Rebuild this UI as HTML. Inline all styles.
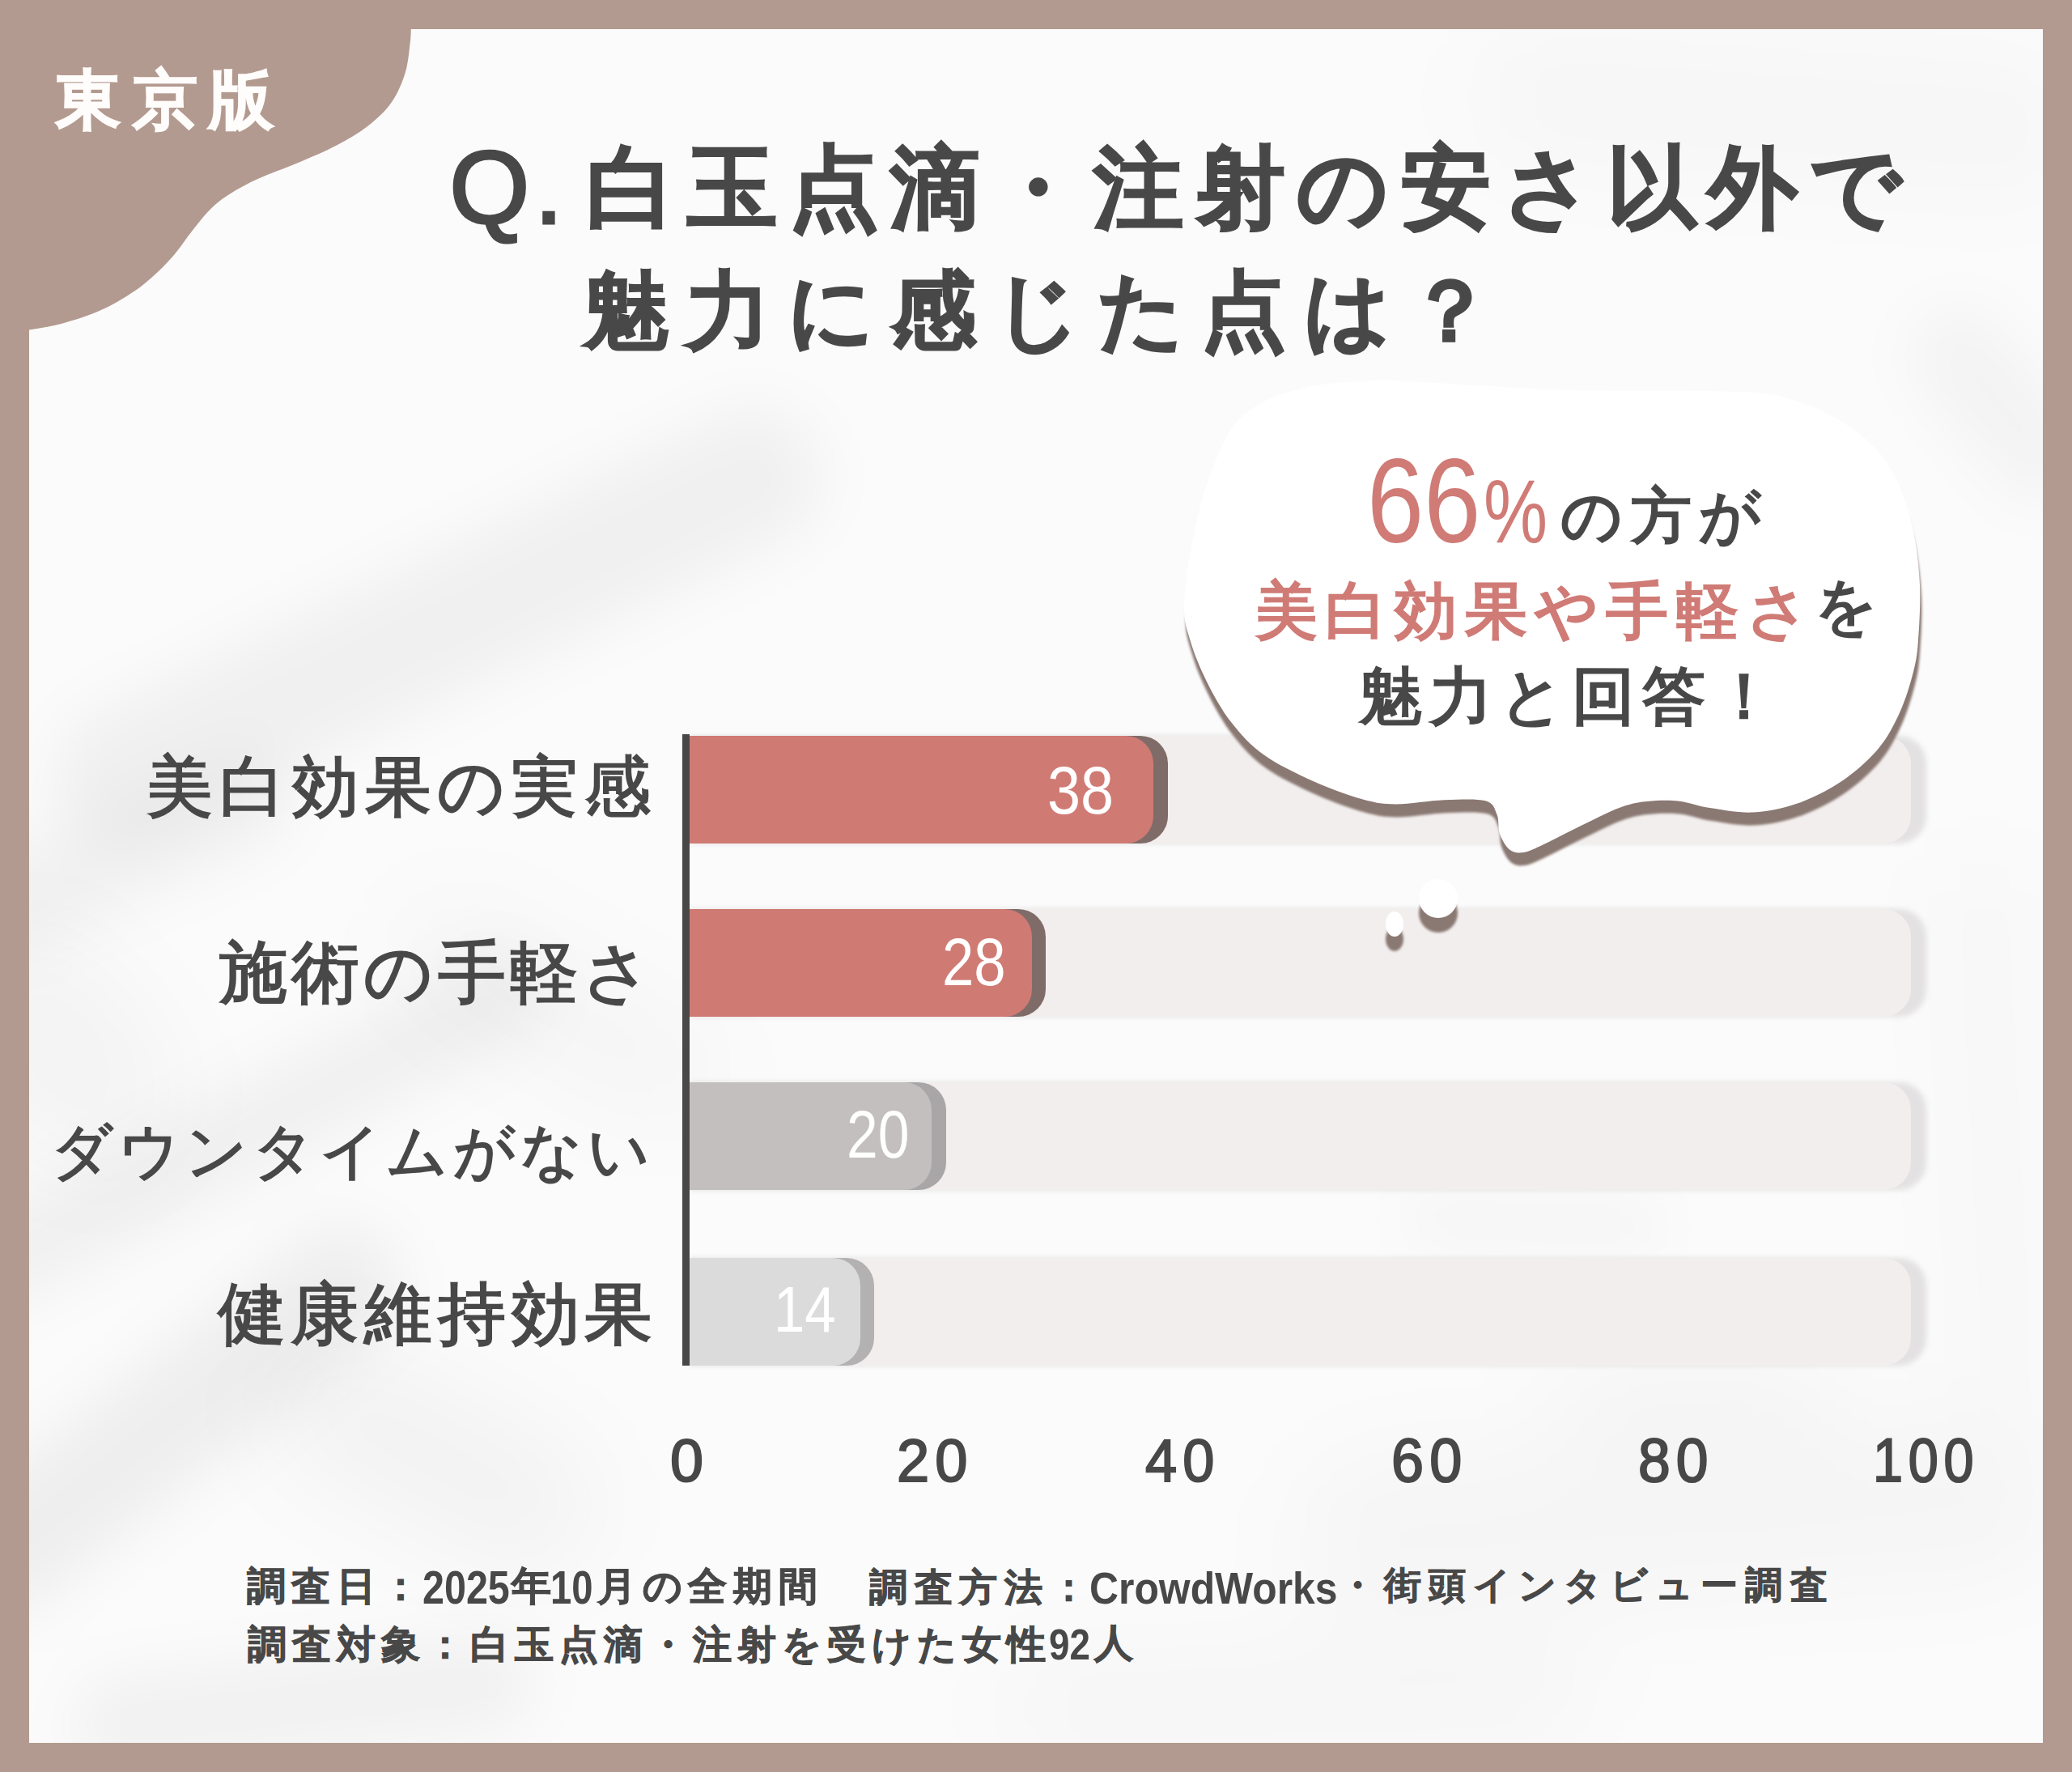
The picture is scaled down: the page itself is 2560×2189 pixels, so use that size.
<!DOCTYPE html>
<html><head><meta charset="utf-8"><title>chart</title>
<style>
html,body{margin:0;padding:0}
body{width:2560px;height:2189px;position:relative;overflow:hidden;background:#b39a90;font-family:"Liberation Sans",sans-serif}
.panel{position:absolute;left:36px;top:36px;width:2488px;height:2117px;background:#fbfbfb;overflow:hidden}
.r{position:absolute;border-radius:0 34px 34px 0}
.t{position:absolute;white-space:nowrap;line-height:1}
</style></head><body>
<div class="panel"><svg width="2488" height="2117" viewBox="36 36 2488 2117" style="position:absolute;left:0;top:0">
<defs>
<filter id="b40" x="-50%" y="-50%" width="200%" height="200%"><feGaussianBlur stdDeviation="35"/></filter>
<filter id="b60" x="-50%" y="-50%" width="200%" height="200%"><feGaussianBlur stdDeviation="60"/></filter>
</defs>
<g filter="url(#b40)" stroke-linecap="round" fill="none" stroke="#000">
<path d="M150,960 L930,590" stroke-width="170" stroke-opacity="0.045"/>
<path d="M0,1560 L620,1230" stroke-width="110" stroke-opacity="0.045"/>
<path d="M0,1920 L420,1590" stroke-width="150" stroke-opacity="0.05"/>
<path d="M0,1120 L300,990" stroke-width="120" stroke-opacity="0.04"/>
<path d="M150,2130 L600,2080" stroke-width="120" stroke-opacity="0.04"/>
<path d="M2420,440 L2520,560" stroke-width="120" stroke-opacity="0.03"/>
<path d="M1760,1505 L2030,1515" stroke-width="50" stroke-opacity="0.03"/>
</g>
<g filter="url(#b60)" stroke-linecap="round" fill="none" stroke="#000">
<path d="M40,1250 L120,1350" stroke-width="200" stroke-opacity="0.03"/>
<path d="M420,1740 L650,1860" stroke-width="170" stroke-opacity="0.035"/>
<path d="M560,1180 L820,1320" stroke-width="140" stroke-opacity="0.025"/>
<path d="M1900,120 L2500,160" stroke-width="160" stroke-opacity="0.02"/>
<path d="M1960,1730 L2220,1730" stroke-width="80" stroke-opacity="0.03"/>
<path d="M2450,1100 L2480,1700" stroke-width="90" stroke-opacity="0.02"/>
<path d="M1700,1900 L2450,1850" stroke-width="200" stroke-opacity="0.025"/>
<path d="M1300,2110 L1900,2090" stroke-width="120" stroke-opacity="0.025"/>
</g>
</svg></div>
<div class="r" style="left:852px;top:909px;width:1528px;height:132.5px;background:#e3e1e1;filter:blur(3px)"></div>
<div class="r" style="left:852px;top:909px;width:1509px;height:132.5px;background:#f2eeed"></div>
<div class="r" style="left:852px;top:909px;width:590.5999999999999px;height:132.5px;background:#7f6c68"></div>
<div class="r" style="left:852px;top:909px;width:573px;height:132.5px;background:#d07a74"></div>
<div class="r" style="left:852px;top:1123px;width:1528px;height:132.5px;background:#e3e1e1;filter:blur(3px)"></div>
<div class="r" style="left:852px;top:1123px;width:1509px;height:132.5px;background:#f2eeed"></div>
<div class="r" style="left:852px;top:1123px;width:440px;height:132.5px;background:#7f6c68"></div>
<div class="r" style="left:852px;top:1123px;width:423px;height:132.5px;background:#d07a74"></div>
<div class="r" style="left:852px;top:1337px;width:1528px;height:132.5px;background:#e3e1e1;filter:blur(3px)"></div>
<div class="r" style="left:852px;top:1337px;width:1509px;height:132.5px;background:#f2eeed"></div>
<div class="r" style="left:852px;top:1337px;width:317px;height:132.5px;background:#a8a6a6"></div>
<div class="r" style="left:852px;top:1337px;width:299px;height:132.5px;background:#c2bfbe"></div>
<div class="r" style="left:852px;top:1554px;width:1528px;height:132.5px;background:#e3e1e1;filter:blur(3px)"></div>
<div class="r" style="left:852px;top:1554px;width:1509px;height:132.5px;background:#f2eeed"></div>
<div class="r" style="left:852px;top:1554px;width:228px;height:132.5px;background:#b3b1b1"></div>
<div class="r" style="left:852px;top:1554px;width:210.5px;height:132.5px;background:#dcdbdb"></div>
<div style="position:absolute;left:843px;top:907px;width:9px;height:780px;background:#484848"></div>
<svg width="2560" height="2189" viewBox="0 0 2560 2189" style="position:absolute;left:0;top:0">
<defs><filter id="bl" x="-5%" y="-5%" width="110%" height="110%"><feGaussianBlur stdDeviation="1.5"/></filter></defs>
<path d="M0,0 L508,0 L507.8,36.0 C507.6,39.0 507.8,45.0 506.6,54.0 C505.4,63.0 504.4,78.2 500.6,90.3 C496.8,102.4 491.4,115.6 483.7,126.5 C476.0,137.4 466.0,146.7 454.7,155.5 C443.4,164.3 430.5,172.0 416.0,179.6 C401.5,187.2 383.9,194.5 367.8,201.3 C351.7,208.1 333.7,214.2 319.6,220.6 C305.5,227.0 293.5,233.6 283.4,240.0 C273.3,246.4 267.2,251.2 259.2,259.2 C251.1,267.2 243.1,278.1 235.1,288.2 C227.1,298.3 221.1,308.7 211.0,319.6 C200.9,330.5 188.9,342.9 174.8,353.4 C160.7,363.8 142.6,374.7 126.5,382.3 C110.4,389.9 93.4,395.0 78.3,399.2 C63.2,403.4 43.0,406.2 36.0,407.6 L0,410 Z" fill="#b39a90"/>
<g filter="url(#bl)" fill="#8a7872">
<path d="M1463.0,745.0 C1462.2,766.8 1465.8,774.6 1470.4,790.7 C1475.0,806.8 1482.3,824.5 1490.7,841.4 C1499.1,858.3 1509.2,876.8 1521.0,892.0 C1532.8,907.2 1544.7,920.4 1561.6,932.6 C1578.5,944.8 1602.2,955.9 1622.4,965.0 C1642.6,974.1 1666.1,982.6 1683.0,987.3 C1699.9,992.0 1706.9,993.2 1723.8,993.4 C1740.7,993.6 1766.0,989.0 1784.6,988.3 C1803.2,987.6 1824.5,986.3 1835.3,989.3 C1846.1,992.2 1846.5,999.2 1849.4,1006.0 C1852.4,1012.8 1850.4,1022.8 1853.0,1030.0 C1855.6,1037.2 1860.1,1045.7 1865.0,1049.5 C1869.9,1053.3 1875.2,1054.2 1882.4,1053.0 C1889.7,1051.8 1895.5,1048.6 1908.5,1042.5 C1921.5,1036.4 1943.2,1024.5 1960.6,1016.4 C1978.0,1008.3 1995.0,998.5 2012.7,993.9 C2030.4,989.3 2050.4,988.3 2067.0,989.0 C2083.6,989.7 2095.7,995.6 2112.3,998.0 C2128.9,1000.4 2148.4,1004.4 2166.4,1003.5 C2184.4,1002.6 2202.5,998.9 2220.6,992.6 C2238.7,986.3 2258.2,976.6 2274.8,965.5 C2291.4,954.4 2308.0,939.9 2320.0,925.8 C2332.0,911.6 2339.7,896.6 2347.0,880.6 C2354.3,864.6 2360.2,844.9 2364.0,830.0 C2367.8,815.1 2368.7,808.8 2370.0,791.0 C2371.3,773.2 2373.0,745.5 2372.0,723.0 C2371.0,700.5 2368.3,676.7 2364.0,656.0 C2359.7,635.3 2353.5,615.7 2346.0,599.0 C2338.5,582.3 2331.0,569.2 2319.0,556.0 C2307.0,542.8 2290.8,530.2 2274.0,520.0 C2257.2,509.8 2238.7,501.0 2218.0,495.0 C2197.3,489.0 2195.5,486.2 2150.0,484.0 C2104.5,481.8 1999.8,483.3 1945.0,482.0 C1890.2,480.7 1861.8,478.0 1821.0,476.0 C1780.2,474.0 1736.8,469.0 1700.0,470.0 C1663.2,471.0 1627.8,474.3 1600.0,482.0 C1572.2,489.7 1550.0,499.8 1533.0,516.0 C1516.0,532.2 1507.7,555.0 1498.0,579.0 C1488.3,603.0 1480.8,632.3 1475.0,660.0 C1469.2,687.7 1463.8,723.2 1463.0,745.0Z" transform="translate(2,16)"/>
<ellipse cx="1777" cy="1128" rx="24" ry="24"/>
<ellipse cx="1723" cy="1160" rx="11" ry="15"/>
</g>
<path d="M1463.0,745.0 C1462.2,766.8 1465.8,774.6 1470.4,790.7 C1475.0,806.8 1482.3,824.5 1490.7,841.4 C1499.1,858.3 1509.2,876.8 1521.0,892.0 C1532.8,907.2 1544.7,920.4 1561.6,932.6 C1578.5,944.8 1602.2,955.9 1622.4,965.0 C1642.6,974.1 1666.1,982.6 1683.0,987.3 C1699.9,992.0 1706.9,993.2 1723.8,993.4 C1740.7,993.6 1766.0,989.0 1784.6,988.3 C1803.2,987.6 1824.5,986.3 1835.3,989.3 C1846.1,992.2 1846.5,999.2 1849.4,1006.0 C1852.4,1012.8 1850.4,1022.8 1853.0,1030.0 C1855.6,1037.2 1860.1,1045.7 1865.0,1049.5 C1869.9,1053.3 1875.2,1054.2 1882.4,1053.0 C1889.7,1051.8 1895.5,1048.6 1908.5,1042.5 C1921.5,1036.4 1943.2,1024.5 1960.6,1016.4 C1978.0,1008.3 1995.0,998.5 2012.7,993.9 C2030.4,989.3 2050.4,988.3 2067.0,989.0 C2083.6,989.7 2095.7,995.6 2112.3,998.0 C2128.9,1000.4 2148.4,1004.4 2166.4,1003.5 C2184.4,1002.6 2202.5,998.9 2220.6,992.6 C2238.7,986.3 2258.2,976.6 2274.8,965.5 C2291.4,954.4 2308.0,939.9 2320.0,925.8 C2332.0,911.6 2339.7,896.6 2347.0,880.6 C2354.3,864.6 2360.2,844.9 2364.0,830.0 C2367.8,815.1 2368.7,808.8 2370.0,791.0 C2371.3,773.2 2373.0,745.5 2372.0,723.0 C2371.0,700.5 2368.3,676.7 2364.0,656.0 C2359.7,635.3 2353.5,615.7 2346.0,599.0 C2338.5,582.3 2331.0,569.2 2319.0,556.0 C2307.0,542.8 2290.8,530.2 2274.0,520.0 C2257.2,509.8 2238.7,501.0 2218.0,495.0 C2197.3,489.0 2195.5,486.2 2150.0,484.0 C2104.5,481.8 1999.8,483.3 1945.0,482.0 C1890.2,480.7 1861.8,478.0 1821.0,476.0 C1780.2,474.0 1736.8,469.0 1700.0,470.0 C1663.2,471.0 1627.8,474.3 1600.0,482.0 C1572.2,489.7 1550.0,499.8 1533.0,516.0 C1516.0,532.2 1507.7,555.0 1498.0,579.0 C1488.3,603.0 1480.8,632.3 1475.0,660.0 C1469.2,687.7 1463.8,723.2 1463.0,745.0Z" fill="#ffffff"/>
<ellipse cx="1777" cy="1110" rx="24" ry="24" fill="#fff"/>
<ellipse cx="1723" cy="1141.5" rx="11" ry="15.5" fill="#fff"/>
</svg>
<div class="t" style="left:69.4px;top:83.1px;color:#fffdfb;font-family:'Liberation Sans',sans-serif;font-size:80.1px;line-height:1;white-space:nowrap;font-weight:700;letter-spacing:14.35px;-webkit-text-stroke:1.60px #fffdfb;">東京版</div>
<div class="t" style="left:555.2px;top:169.2px;color:#484848;font-family:'Liberation Sans',sans-serif;font-size:127.4px;line-height:1;white-space:nowrap;font-weight:400;letter-spacing:5.97px;-webkit-text-stroke:3.19px #484848;">Q.</div>
<div class="t" style="left:723.7px;top:177.3px;color:#484848;font-family:'Liberation Sans',sans-serif;font-size:110.51px;line-height:1;white-space:nowrap;font-weight:700;letter-spacing:14.5px;-webkit-text-stroke:2.21px #484848;">白玉点滴・注射の安さ以外で</div>
<div class="t" style="left:720.7px;top:331.0px;color:#484848;font-family:'Liberation Sans',sans-serif;font-size:105.45px;line-height:1;white-space:nowrap;font-weight:700;letter-spacing:21.27px;-webkit-text-stroke:2.11px #484848;">魅力に感じた点は？</div>
<div class="t" style="left:1688.9px;top:545.1px;color:#d07b76;font-family:'Liberation Sans',sans-serif;font-size:148.73px;line-height:1;white-space:nowrap;font-weight:400;transform:scaleX(0.849);transform-origin:0 0;">66</div>
<div class="t" style="left:1833.4px;top:575.5px;color:#d07b76;font-family:'Liberation Sans',sans-serif;font-size:111.71px;line-height:1;white-space:nowrap;font-weight:400;transform:scaleX(0.7957);transform-origin:0 0;">%</div>
<div class="t" style="left:1928.0px;top:600.1px;color:#484848;font-family:'Liberation Sans',sans-serif;font-size:75.19px;line-height:1;white-space:nowrap;font-weight:400;letter-spacing:9.71px;-webkit-text-stroke:2.63px #484848;">の方が</div>
<div class="t" style="left:1550.5px;top:716.0px;color:#d07b76;font-family:'Liberation Sans',sans-serif;font-size:76.92px;line-height:1;white-space:nowrap;font-weight:400;letter-spacing:9.38px;-webkit-text-stroke:2.69px #d07b76;">美白効果や手軽さ</div>
<div class="t" style="left:2241.9px;top:710.9px;color:#484848;font-family:'Liberation Sans',sans-serif;font-size:75.85px;line-height:1;white-space:nowrap;font-weight:400;-webkit-text-stroke:2.65px #484848;">を</div>
<div class="t" style="left:1679.1px;top:821.8px;color:#484848;font-family:'Liberation Sans',sans-serif;font-size:77.88px;line-height:1;white-space:nowrap;font-weight:400;letter-spacing:8.92px;-webkit-text-stroke:2.73px #484848;">魅力と回答！</div>
<div class="t" style="left:180.7px;top:931.4px;color:#484848;font-family:'Liberation Sans',sans-serif;font-size:82.06px;line-height:1;white-space:nowrap;font-weight:400;letter-spacing:7.95px;-webkit-text-stroke:2.05px #484848;">美白効果の実感</div>
<div class="t" style="left:270.8px;top:1159.6px;color:#484848;font-family:'Liberation Sans',sans-serif;font-size:83.7px;line-height:1;white-space:nowrap;font-weight:400;letter-spacing:5.34px;-webkit-text-stroke:2.09px #484848;">施術の手軽さ</div>
<div class="t" style="left:63.0px;top:1384.5px;color:#484848;font-family:'Liberation Sans',sans-serif;font-size:74.8px;line-height:1;white-space:nowrap;font-weight:400;letter-spacing:5.9px;-webkit-text-stroke:1.87px #484848;">ダウンタイムがない</div>
<div class="t" style="left:268.7px;top:1580.8px;color:#484848;font-family:'Liberation Sans',sans-serif;font-size:84.16px;line-height:1;white-space:nowrap;font-weight:400;letter-spacing:6.71px;-webkit-text-stroke:2.10px #484848;">健康維持効果</div>
<div class="t" style="left:1294.0px;top:934.5px;color:#ffffff;font-family:'Liberation Sans',sans-serif;font-size:83.1px;line-height:1;white-space:nowrap;font-weight:400;transform:scaleX(0.8879);transform-origin:0 0;">38</div>
<div class="t" style="left:1164.1px;top:1146.5px;color:#ffffff;font-family:'Liberation Sans',sans-serif;font-size:83.1px;line-height:1;white-space:nowrap;font-weight:400;transform:scaleX(0.8518);transform-origin:0 0;">28</div>
<div class="t" style="left:1045.5px;top:1359.5px;color:#ffffff;font-family:'Liberation Sans',sans-serif;font-size:83.1px;line-height:1;white-space:nowrap;font-weight:400;transform:scaleX(0.8377);transform-origin:0 0;">20</div>
<div class="t" style="left:955.5px;top:1578.0px;color:#ffffff;font-family:'Liberation Sans',sans-serif;font-size:80.0px;line-height:1;white-space:nowrap;font-weight:400;transform:scaleX(0.8625);transform-origin:0 0;">14</div>
<div class="t" style="left:827.5px;top:1767.3px;color:#484848;font-family:'Liberation Sans',sans-serif;font-size:74.67px;line-height:1;white-space:nowrap;font-weight:400;letter-spacing:7.4670000000000005px;-webkit-text-stroke:2.09px #484848;transform:scaleX(0.9874);transform-origin:0 0;">0</div>
<div class="t" style="left:1108.1px;top:1767.3px;color:#484848;font-family:'Liberation Sans',sans-serif;font-size:74.67px;line-height:1;white-space:nowrap;font-weight:400;letter-spacing:7.4670000000000005px;-webkit-text-stroke:2.09px #484848;transform:scaleX(0.9666);transform-origin:0 0;">20</div>
<div class="t" style="left:1415.3px;top:1767.3px;color:#484848;font-family:'Liberation Sans',sans-serif;font-size:74.67px;line-height:1;white-space:nowrap;font-weight:400;letter-spacing:7.4670000000000005px;-webkit-text-stroke:2.09px #484848;transform:scaleX(0.942);transform-origin:0 0;">40</div>
<div class="t" style="left:1718.5px;top:1767.2px;color:#484848;font-family:'Liberation Sans',sans-serif;font-size:75.2px;line-height:1;white-space:nowrap;font-weight:400;letter-spacing:7.5200000000000005px;-webkit-text-stroke:2.11px #484848;transform:scaleX(0.9574);transform-origin:0 0;">60</div>
<div class="t" style="left:2024.3px;top:1767.2px;color:#484848;font-family:'Liberation Sans',sans-serif;font-size:75.2px;line-height:1;white-space:nowrap;font-weight:400;letter-spacing:7.5200000000000005px;-webkit-text-stroke:2.11px #484848;transform:scaleX(0.9492);transform-origin:0 0;">80</div>
<div class="t" style="left:2314.2px;top:1767.2px;color:#484848;font-family:'Liberation Sans',sans-serif;font-size:75.2px;line-height:1;white-space:nowrap;font-weight:400;letter-spacing:7.5200000000000005px;-webkit-text-stroke:2.11px #484848;transform:scaleX(0.886);transform-origin:0 0;">100</div>
<div class="t" style="left:304.5px;top:1935.8px;color:#484848;font-family:'Liberation Sans',sans-serif;font-size:47.94px;line-height:1;white-space:nowrap;font-weight:700;letter-spacing:7.63px;-webkit-text-stroke:0.96px #484848;">調査日：</div>
<div class="t" style="left:521.5px;top:1932.8px;color:#484848;font-family:'Liberation Sans',sans-serif;font-size:57.18px;line-height:1;white-space:nowrap;font-weight:700;transform:scaleX(0.8478);transform-origin:0 0;">2025</div>
<div class="t" style="left:632.0px;top:1934.3px;color:#484848;font-family:'Liberation Sans',sans-serif;font-size:49.39px;line-height:1;white-space:nowrap;font-weight:700;-webkit-text-stroke:0.99px #484848;">年</div>
<div class="t" style="left:680.1px;top:1932.8px;color:#484848;font-family:'Liberation Sans',sans-serif;font-size:57.18px;line-height:1;white-space:nowrap;font-weight:700;transform:scaleX(0.8259);transform-origin:0 0;">10</div>
<div class="t" style="left:738.0px;top:1934.8px;color:#484848;font-family:'Liberation Sans',sans-serif;font-size:48.42px;line-height:1;white-space:nowrap;font-weight:700;letter-spacing:7.72px;-webkit-text-stroke:0.97px #484848;">月の全期間</div>
<div class="t" style="left:1074.0px;top:1936.7px;color:#484848;font-family:'Liberation Sans',sans-serif;font-size:47.02px;line-height:1;white-space:nowrap;font-weight:700;letter-spacing:8.69px;-webkit-text-stroke:0.94px #484848;">調査方法：</div>
<div class="t" style="left:1346.3px;top:1934.3px;color:#484848;font-family:'Liberation Sans',sans-serif;font-size:55.81px;line-height:1;white-space:nowrap;font-weight:700;transform:scaleX(0.8935);transform-origin:0 0;">CrowdWorks</div>
<div class="t" style="left:1654.3px;top:1935.7px;color:#484848;font-family:'Liberation Sans',sans-serif;font-size:45.7px;line-height:1;white-space:nowrap;font-weight:700;letter-spacing:9.23px;-webkit-text-stroke:0.91px #484848;">・街頭インタビュー調査</div>
<div class="t" style="left:305.5px;top:2008.1px;color:#484848;font-family:'Liberation Sans',sans-serif;font-size:47.88px;line-height:1;white-space:nowrap;font-weight:700;letter-spacing:7.0px;-webkit-text-stroke:0.96px #484848;">調査対象：白玉点滴・注射を受けた女性</div>
<div class="t" style="left:1295.6px;top:2005.0px;color:#484848;font-family:'Liberation Sans',sans-serif;font-size:54.37px;line-height:1;white-space:nowrap;font-weight:700;transform:scaleX(0.8419);transform-origin:0 0;">92</div>
<div class="t" style="left:1352.1px;top:2005.6px;color:#484848;font-family:'Liberation Sans',sans-serif;font-size:47.92px;line-height:1;white-space:nowrap;font-weight:700;-webkit-text-stroke:0.96px #484848;">人</div>
</body></html>
